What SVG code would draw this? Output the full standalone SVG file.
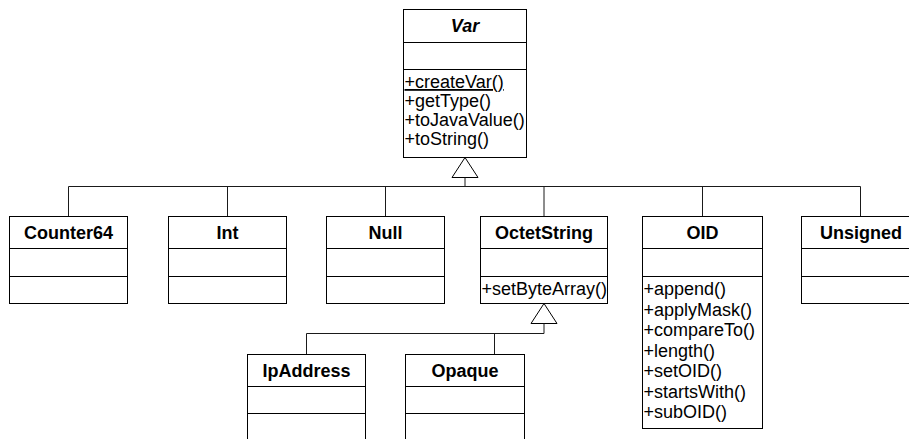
<svg xmlns="http://www.w3.org/2000/svg" width="909" height="439" viewBox="0 0 909 439">
<style>
  .box { fill: #ffffff; stroke: #000000; stroke-width: 1; }
  .div { stroke: #000000; stroke-width: 1; fill: none; }
  .conn { stroke: #1a1a1a; stroke-width: 1; fill: none; }
  .tri { fill: #ffffff; stroke: #000000; stroke-width: 1; }
  .title { font-family: "Liberation Sans", Arial, sans-serif; font-size: 18px; font-weight: bold; text-anchor: middle; fill: #000; }
  .op { font-family: "Liberation Sans", Arial, sans-serif; font-size: 18px; fill: #000; }
</style>
<rect width="909" height="439" fill="#ffffff"/>

<g id="connectors">
  <polygon class="tri" points="465,157.5 478,177.5 452,177.5"/>
  <line class="conn" x1="465" y1="177.5" x2="465" y2="186.5"/>
  <line class="conn" x1="68.5" y1="186.5" x2="860.5" y2="186.5"/>
  <line class="conn" x1="68.5" y1="186.5" x2="68.5" y2="216.5"/>
  <line class="conn" x1="227.5" y1="186.5" x2="227.5" y2="216.5"/>
  <line class="conn" x1="385.5" y1="186.5" x2="385.5" y2="216.5"/>
  <line class="conn" x1="544" y1="186.5" x2="544" y2="216.5"/>
  <line class="conn" x1="702.5" y1="186.5" x2="702.5" y2="216.5"/>
  <line class="conn" x1="860.5" y1="186.5" x2="860.5" y2="216.5"/>
  <polygon class="tri" points="544,303.5 557,323.5 531,323.5"/>
  <line class="conn" x1="544" y1="323.5" x2="544" y2="333.5"/>
  <line class="conn" x1="306.5" y1="333.5" x2="544" y2="333.5"/>
  <line class="conn" x1="306.5" y1="333.5" x2="306.5" y2="354.5"/>
  <line class="conn" x1="494.5" y1="333.5" x2="494.5" y2="354.5"/>
</g>

<g id="Var">
  <rect class="box" x="403.5" y="9.5" width="123" height="148"/>
  <line class="div" x1="403.5" y1="42.5" x2="526.5" y2="42.5"/>
  <line class="div" x1="403.5" y1="69.5" x2="526.5" y2="69.5"/>
  <text class="title" x="465" y="31.5" font-style="italic">Var</text>
  <text class="op" x="404.5" y="88" text-decoration="underline">+createVar()</text>
  <text class="op" x="404.5" y="107">+getType()</text>
  <text class="op" x="404.5" y="126">+toJavaValue()</text>
  <text class="op" x="404.5" y="145">+toString()</text>
</g>

<g id="Counter64">
  <rect class="box" x="9.5" y="216.5" width="118" height="87"/>
  <line class="div" x1="9.5" y1="248.5" x2="127.5" y2="248.5"/>
  <line class="div" x1="9.5" y1="276.5" x2="127.5" y2="276.5"/>
  <text class="title" x="68.5" y="239">Counter64</text>
</g>

<g id="Int">
  <rect class="box" x="168.5" y="216.5" width="118" height="87"/>
  <line class="div" x1="168.5" y1="248.5" x2="286.5" y2="248.5"/>
  <line class="div" x1="168.5" y1="276.5" x2="286.5" y2="276.5"/>
  <text class="title" x="227.5" y="239">Int</text>
</g>

<g id="Null">
  <rect class="box" x="326.5" y="216.5" width="118" height="87"/>
  <line class="div" x1="326.5" y1="248.5" x2="444.5" y2="248.5"/>
  <line class="div" x1="326.5" y1="276.5" x2="444.5" y2="276.5"/>
  <text class="title" x="385.5" y="239">Null</text>
</g>

<g id="OctetString">
  <rect class="box" x="480.5" y="216.5" width="127" height="87"/>
  <line class="div" x1="480.5" y1="248.5" x2="607.5" y2="248.5"/>
  <line class="div" x1="480.5" y1="276.5" x2="607.5" y2="276.5"/>
  <text class="title" x="544" y="239">OctetString</text>
  <text class="op" x="481.5" y="295">+setByteArray()</text>
</g>

<g id="OID">
  <rect class="box" x="642.5" y="216.5" width="120" height="212"/>
  <line class="div" x1="642.5" y1="248.5" x2="762.5" y2="248.5"/>
  <line class="div" x1="642.5" y1="276.5" x2="762.5" y2="276.5"/>
  <text class="title" x="702.5" y="239">OID</text>
  <text class="op" x="643.5" y="295">+append()</text>
  <text class="op" x="643.5" y="315.5">+applyMask()</text>
  <text class="op" x="643.5" y="336">+compareTo()</text>
  <text class="op" x="643.5" y="356.5">+length()</text>
  <text class="op" x="643.5" y="377">+setOID()</text>
  <text class="op" x="643.5" y="397.5">+startsWith()</text>
  <text class="op" x="643.5" y="418">+subOID()</text>
</g>

<g id="Unsigned">
  <rect class="box" x="801.5" y="216.5" width="119" height="87"/>
  <line class="div" x1="801.5" y1="248.5" x2="920.5" y2="248.5"/>
  <line class="div" x1="801.5" y1="276.5" x2="920.5" y2="276.5"/>
  <text class="title" x="861" y="239">Unsigned</text>
</g>

<g id="IpAddress">
  <rect class="box" x="247.5" y="354.5" width="118" height="87"/>
  <line class="div" x1="247.5" y1="386.5" x2="365.5" y2="386.5"/>
  <line class="div" x1="247.5" y1="413.5" x2="365.5" y2="413.5"/>
  <text class="title" x="306.5" y="376.5">IpAddress</text>
</g>

<g id="Opaque">
  <rect class="box" x="405.5" y="354.5" width="119" height="87"/>
  <line class="div" x1="405.5" y1="386.5" x2="524.5" y2="386.5"/>
  <line class="div" x1="405.5" y1="413.5" x2="524.5" y2="413.5"/>
  <text class="title" x="465" y="376.5">Opaque</text>
</g>
</svg>
